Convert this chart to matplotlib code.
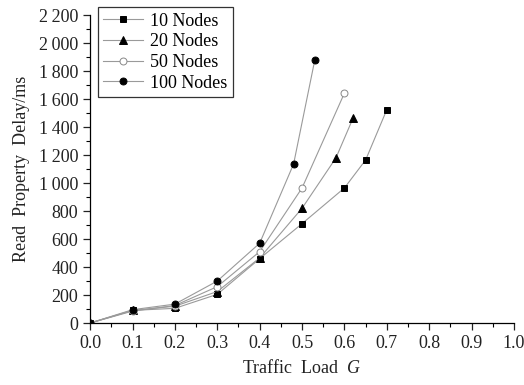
import matplotlib
matplotlib.use("Agg")
import matplotlib.pyplot as plt
from matplotlib.ticker import FuncFormatter, MultipleLocator

plt.rcParams["font.family"] = ["Liberation Serif", "DejaVu Serif"]
plt.rcParams["mathtext.fontset"] = "custom"
plt.rcParams["mathtext.rm"] = "Liberation Serif"
plt.rcParams["mathtext.it"] = "Liberation Serif:italic"

load_10 = [0.0, 0.1, 0.2, 0.3, 0.4, 0.5, 0.6, 0.65, 0.7]
delay_10 = [0, 90, 105, 205, 460, 710, 965, 1165, 1525]

load_20 = [0.0, 0.1, 0.2, 0.3, 0.4, 0.5, 0.58, 0.62]
delay_20 = [0, 90, 120, 225, 465, 820, 1180, 1462]

load_50 = [0.0, 0.1, 0.2, 0.3, 0.4, 0.5, 0.6]
delay_50 = [0, 85, 125, 260, 510, 965, 1643]

load_100 = [0.0, 0.1, 0.2, 0.3, 0.4, 0.48, 0.53]
delay_100 = [0, 95, 135, 300, 570, 1136, 1879]

series = [
    ("10 Nodes", load_10, delay_10, "s", "black"),
    ("20 Nodes", load_20, delay_20, "^", "black"),
    ("50 Nodes", load_50, delay_50, "o", "white"),
    ("100 Nodes", load_100, delay_100, "o", "black"),
]

fig = plt.figure(figsize=(5.24, 3.85), dpi=100)
ax = fig.add_axes([0.172, 0.161, 0.809, 0.8])

for label, x, y, marker, face in series:
    ax.plot(x, y, color="#9a9a9a", linewidth=0.8, marker=marker,
            markersize=5 if marker != "^" else 5.5, markerfacecolor=face,
            markeredgecolor="black" if face == "black" else "#888888",
            markeredgewidth=0.7, label=label)

ax.set_xlim(0, 1.0)
ax.set_ylim(0, 2200)
ax.xaxis.set_major_locator(MultipleLocator(0.1))
ax.xaxis.set_minor_locator(MultipleLocator(0.05))
ax.yaxis.set_major_locator(MultipleLocator(200))
ax.yaxis.set_minor_locator(MultipleLocator(100))
ax.xaxis.set_major_formatter(FuncFormatter(lambda v, p: f"{v:.1f}"))
ax.yaxis.set_major_formatter(FuncFormatter(lambda v, p: f"{int(v):,}".replace(",", "\u2009")))

for side in ("top", "right"):
    ax.spines[side].set_visible(False)
for side in ("left", "bottom"):
    ax.spines[side].set_linewidth(0.9)
ax.tick_params(which="major", direction="out", length=5, width=0.9, labelsize=13, colors="#222222")
ax.tick_params(which="minor", direction="out", length=3, width=0.8)

ax.set_xlabel("Traffic  Load  $G$", fontsize=13, color="#222222", labelpad=5)
ax.set_ylabel("Read  Property  Delay/ms", fontsize=13, color="#222222", labelpad=6)

leg = ax.legend(loc="upper left", bbox_to_anchor=(0.018, 1.025), fontsize=13, frameon=True,
                fancybox=False, edgecolor="black", handlelength=2.2, borderpad=0.3,
                labelspacing=0.2, handletextpad=0.4, borderaxespad=0)
leg.get_frame().set_linewidth(0.9)

fig.savefig("out.png", dpi=100)
